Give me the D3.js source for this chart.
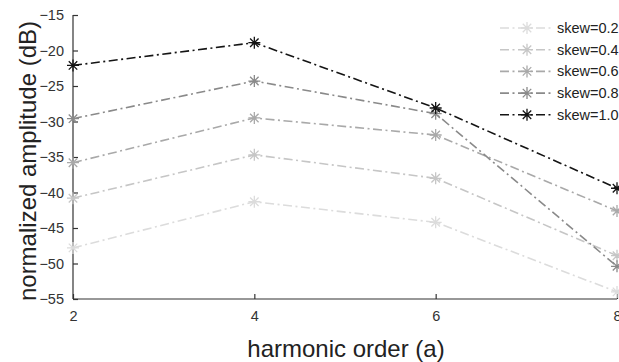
<!DOCTYPE html>
<html>
<head>
<meta charset="utf-8">
<script src="https://cdn.jsdelivr.net/npm/d3@7"></script>
<style>
  html, body { margin: 0; padding: 0; background: #fff; }
  svg { display: block; font-family: "Liberation Sans", Arial, sans-serif; }
</style>
</head>
<body>
<div id="chart"></div>
<script>
const harmonics = [2, 4, 6, 8]
const skewLabels = ["skew=0.2", "skew=0.4", "skew=0.6", "skew=0.8", "skew=1.0"]
const skew02 = [-47.8, -41.3, -44.2, -54.0]
const skew04 = [-40.8, -34.7, -38.0, -48.9]
const skew06 = [-35.8, -29.5, -31.9, -42.6]
const skew08 = [-29.6, -24.3, -28.9, -50.4]
const skew10 = [-22.1, -18.9, -28.1, -39.4]
const yTicks = [-15, -20, -25, -30, -35, -40, -45, -50, -55]
const xTicks = [2, 4, 6, 8]

const seriesValues = [skew02, skew04, skew06, skew08, skew10]
const colors = ["#dcdcdc", "#c6c6c6", "#a9a9a9", "#8a8a8a", "#141414"]

const width = 619, height = 362
const margin = {top: 15, right: 2, bottom: 63, left: 73}

const svg = d3.select("#chart")
  .append("svg")
  .attr("width", width)
  .attr("height", height)

const x = d3.scaleLinear().domain([2, 8]).range([margin.left, width - margin.right])
const y = d3.scaleLinear().domain([-55, -15]).range([height - margin.bottom, margin.top])

// asterisk marker, 8 spokes
function star(r) {
  let p = ""
  for (let k = 0; k < 4; k++) {
    const a = k * Math.PI / 4
    const dx = r * Math.cos(a), dy = r * Math.sin(a)
    p += `M${-dx},${-dy}L${dx},${dy}`
  }
  return p
}

const axisColor = "#333"

// axes (inward ticks, no box)
const xAxis = svg.append("g")
  .attr("transform", `translate(0,${y(-55)})`)
  .call(d3.axisBottom(x).tickValues(xTicks).tickSize(-5).tickPadding(12).tickFormat(d3.format("d")))
const yAxis = svg.append("g")
  .attr("transform", `translate(${x(2)},0)`)
  .call(d3.axisLeft(y).tickValues(yTicks).tickSize(-5).tickPadding(9).tickFormat(d3.format("d")))

;[xAxis, yAxis].forEach(g => {
  g.select(".domain").attr("stroke", axisColor).attr("stroke-width", 1.2)
  g.selectAll(".tick line").attr("stroke", axisColor).attr("stroke-width", 1.2)
  g.selectAll(".tick text").attr("fill", "#333").style("font-size", "14.5px")
    .style("font-family", "'Liberation Sans', Arial, sans-serif")
})
xAxis.select(".domain").attr("d", `M${x(2)},0H${x(8)}`)
yAxis.select(".domain").attr("d", `M0,${y(-15)}V${y(-55)}`)

const line = d3.line()
  .x((d, i) => x(harmonics[i]))
  .y(d => y(d))

seriesValues.forEach((vals, s) => {
  const g = svg.append("g")
  g.append("path")
    .datum(vals)
    .attr("fill", "none")
    .attr("stroke", colors[s])
    .attr("stroke-width", 1.6)
    .attr("stroke-dasharray", "9,3.5,2,3.5")
    .attr("d", line)
  g.selectAll("path.m")
    .data(vals)
    .join("path")
    .attr("class", "m")
    .attr("transform", (d, i) => `translate(${x(harmonics[i])},${y(d)})`)
    .attr("d", star(6))
    .attr("stroke", colors[s])
    .attr("stroke-width", 1.3)
    .attr("fill", "none")
})

// legend
const legend = svg.append("g")
skewLabels.forEach((lab, s) => {
  const ly = 28 + s * 21.7
  legend.append("line")
    .attr("x1", 500).attr("x2", 553)
    .attr("y1", ly).attr("y2", ly)
    .attr("stroke", colors[s])
    .attr("stroke-width", 1.6)
    .attr("stroke-dasharray", "9,3.5,2,3.5")
  legend.append("path")
    .attr("transform", `translate(527,${ly})`)
    .attr("d", star(6))
    .attr("stroke", colors[s])
    .attr("stroke-width", 1.3)
    .attr("fill", "none")
  legend.append("text")
    .attr("x", 557).attr("y", ly)
    .attr("dy", "0.35em")
    .attr("fill", "#222")
    .style("font-size", "14.5px")
    .text(lab)
})

// axis titles
svg.append("text")
  .attr("x", 346).attr("y", 357)
  .attr("text-anchor", "middle")
  .attr("fill", "#222")
  .style("font-size", "24px")
  .text("harmonic order (a)")

svg.append("text")
  .attr("transform", `translate(36,161) rotate(-90)`)
  .attr("text-anchor", "middle")
  .attr("fill", "#222")
  .style("font-size", "24px")
  .text("normalized amplitude (dB)")
</script>
</body>
</html>
